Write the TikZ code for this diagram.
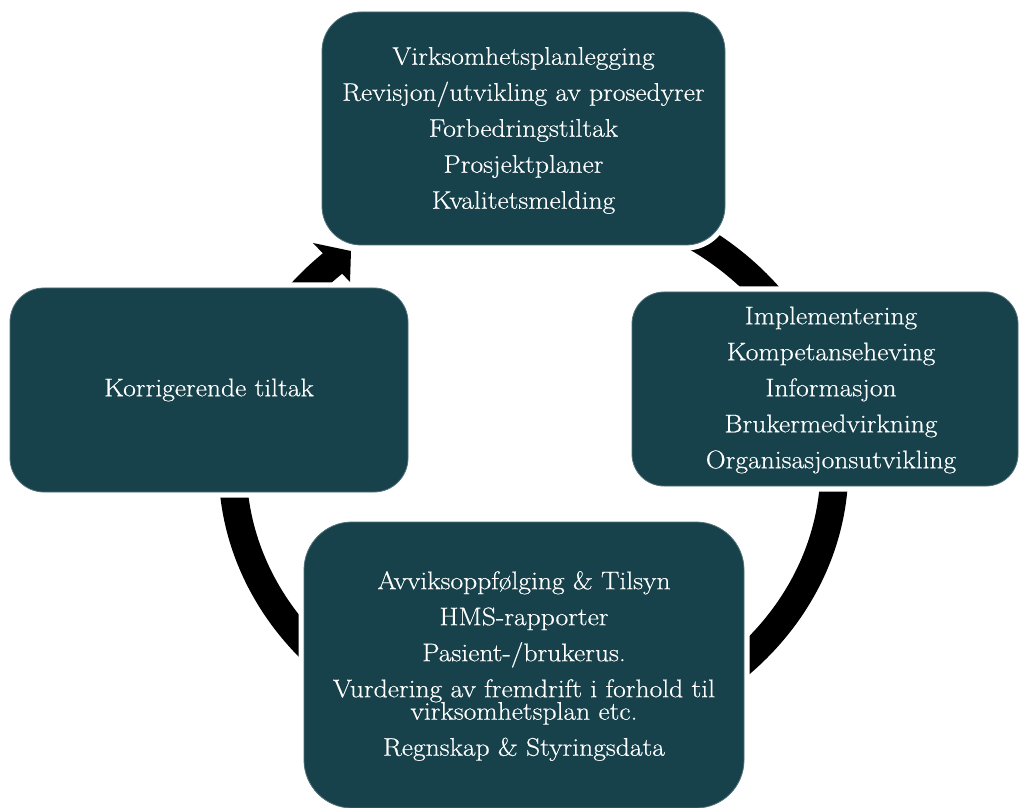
\documentclass[tikz,border=0pt]{standalone}
\usepackage{fontspec}
\setmainfont{Latin Modern Roman}[FakeStretch=1.08,FakeBold=0.4]
\usetikzlibrary{calc}
\definecolor{boxc}{RGB}{23,66,75}
\setlength{\lineskiplimit}{-6pt}
\begin{document}
\begin{tikzpicture}[x=1pt,y=1pt,
  box/.style={preaction={draw=white,line width=11pt}, fill=boxc, draw=boxc!75!white, line width=0.8pt, inner sep=0pt},
  txt/.style={text=white, align=center, inner sep=0pt, font=\fontsize{25.5}{22.5}\selectfont},
  ring/.style={line width=28pt, draw=black}]
\fill[white] (0,0) rectangle (1019,807);
\useasboundingbox (0,0) rectangle (1019,807);
% cycle ring (drawn behind the boxes)
\coordinate (c) at (533.5,341);
\draw[ring] ($(c)+(0,272)$) arc[start angle=90,end angle=-229,x radius=301pt,y radius=272pt];
\coordinate (ob) at (313,564);
\coordinate (tip) at (351,556);
\coordinate (ib) at (350,525);
\fill[black] (ob) -- (tip) -- (ib) -- cycle;
% boxes
\node[box, minimum width=403pt, minimum height=233pt, rounded corners=39pt] (top) at (523.5,678.5) {};
\node[box, minimum width=398pt, minimum height=204pt, rounded corners=34pt] (left) at (209,417) {};
\node[box, minimum width=386pt, minimum height=194pt, rounded corners=32pt] (right) at (825,418) {};
\node[box, minimum width=440pt, minimum height=286pt, rounded corners=48pt] (bottom) at (524,142) {};
% texts
\node[txt] (toptxt) at ($(top.center)+(0,-2)$) {Virksomhetsplanlegging\\[13.5pt]Revisjon/utvikling av prosedyrer\\[13.5pt]Forbedringstiltak\\[13.5pt]Prosjektplaner\\[13.5pt]Kvalitetsmelding};
\node[txt] (lefttxt) at (left.center) {Korrigerende tiltak};
\node[txt] (righttxt) at ($(right.center)+(6,-1)$) {Implementering\\[13.5pt]Kompetanseheving\\[13.5pt]Informasjon\\[13.5pt]Brukermedvirkning\\[13.5pt]Organisasjonsutvikling};
\node[txt] (bottomtxt) at ($(bottom.center)+(0,-1)$) {Avviksoppfølging \& Tilsyn\\[13.5pt]HMS-rapporter\\[13.5pt]Pasient-/brukerus.\\[13.5pt]Vurdering av fremdrift i forhold til\\virksomhetsplan etc.\\[13.5pt]Regnskap \& Styringsdata};
\end{tikzpicture}
\end{document}
